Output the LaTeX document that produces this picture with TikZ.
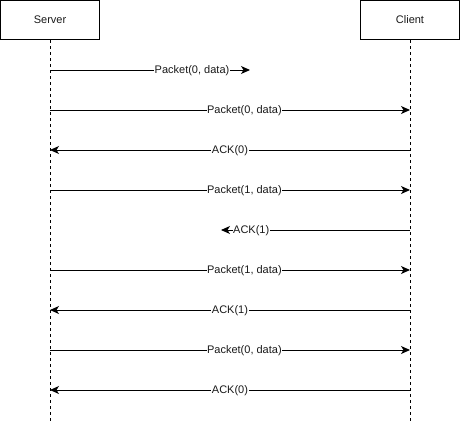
\documentclass[tikz,border=0pt]{standalone}
\usepackage{fontspec}
\setmainfont{Liberation Sans}
\definecolor{color0}{HTML}{000000}
\definecolor{textColor}{HTML}{1a1a1a}
\definecolor{bgColor}{HTML}{ffffff}
\usetikzlibrary{arrows.meta}

\begin{document}
\begin{tikzpicture}[x=1pt,y=-1pt]
\tikzset{actor/.style={draw=color0, line width=1pt, fill=bgColor, minimum width=99pt, minimum height=39pt, inner sep=0pt, text=textColor, font=\fontsize{11}{13}\selectfont},
  lifeline/.style={draw=color0, line width=0.8pt, dash pattern=on 3pt off 3pt},
  msg/.style={draw=color0, line width=1pt, -{Stealth[length=9pt,width=8pt,inset=2.5pt]}},
  lbl/.style={fill=bgColor, inner sep=0.6pt, text=textColor, font=\fontsize{11}{13}\selectfont}}
\useasboundingbox (0,0) rectangle (461,421);
\fill[bgColor] (0,0) rectangle (461,421);
\coordinate (srvend) at (50,421);
\coordinate (cliend) at (410,421);
\draw[lifeline] (50,40) -- (srvend);
\draw[lifeline] (410,40) -- (cliend);
\node[actor] (srv) at (50,20) {Server};
\node[actor] (cli) at (410,20) {Client};
\foreach \i/\y in {1/70,2/110,3/150,4/190,5/230,6/270,7/310,8/350,9/390}{
  \coordinate (s\i) at (50,\y);
  \coordinate (c\i) at (410,\y);
}
\coordinate (lost1) at (250,70);
\coordinate (lost5) at (221,230);
\draw[msg] (s1) -- (lost1) node[lbl, pos=0.71, yshift=-0.5pt] {Packet(0, data)};
\draw[msg] (s2) -- (c2) node[lbl, pos=0.54, yshift=-0.5pt] {Packet(0, data)};
\draw[msg] (c3) -- (s3) node[lbl, midway, yshift=-0.5pt] {ACK(0)};
\draw[msg] (s4) -- (c4) node[lbl, pos=0.54, yshift=-0.5pt] {Packet(1, data)};
\draw[msg] (c5) -- (lost5) node[lbl, pos=0.84, yshift=-0.5pt] {ACK(1)};
\draw[msg] (s6) -- (c6) node[lbl, pos=0.54, yshift=-0.5pt] {Packet(1, data)};
\draw[msg] (c7) -- (s7) node[lbl, midway, yshift=-0.5pt] {ACK(1)};
\draw[msg] (s8) -- (c8) node[lbl, pos=0.54, yshift=-0.5pt] {Packet(0, data)};
\draw[msg] (c9) -- (s9) node[lbl, midway, yshift=-0.5pt] {ACK(0)};
\end{tikzpicture}
\end{document}
